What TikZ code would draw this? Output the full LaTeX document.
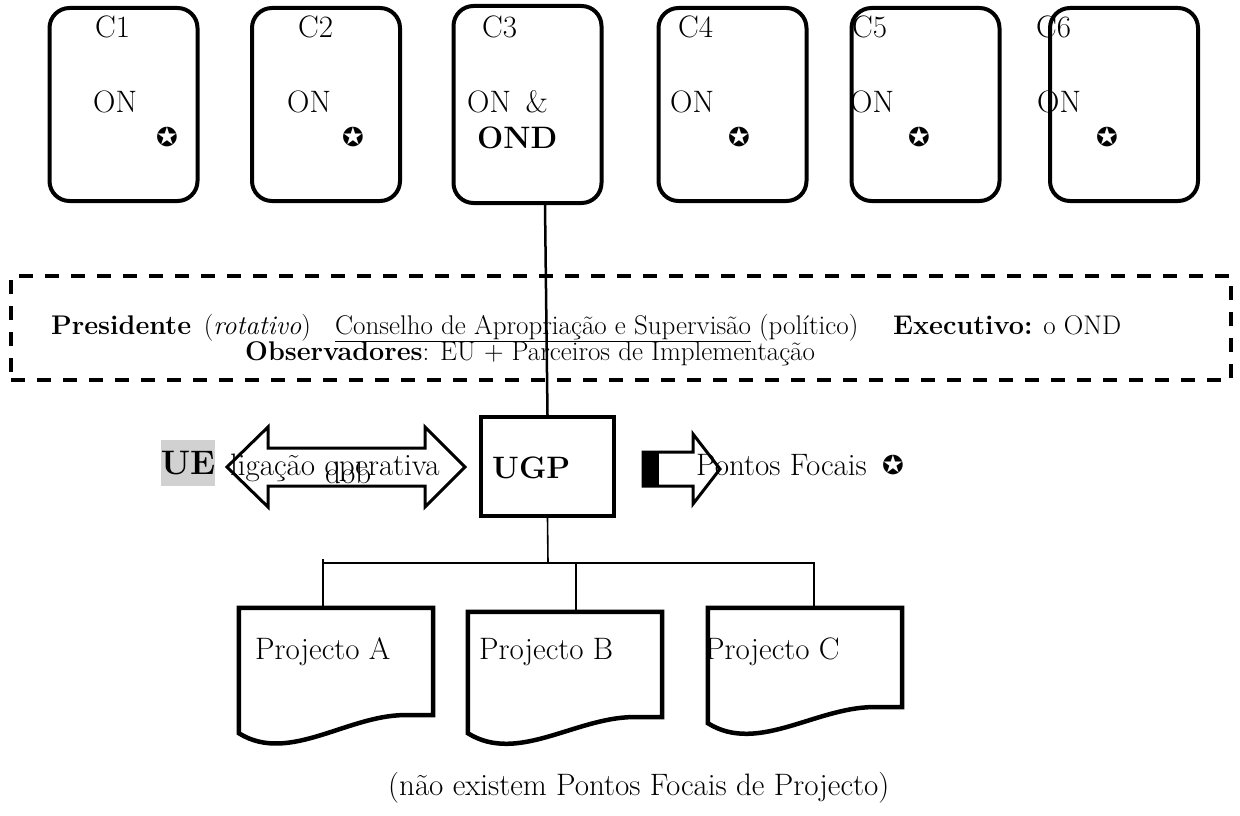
\documentclass[tikz,border=0pt]{standalone}
\usepackage{fontspec}
\newfontfamily\starf{DejaVu Sans}
\usetikzlibrary{calc}
\tikzset{
  cbox/.style={draw, line width=4pt, rounded corners=20pt, minimum width=148pt, minimum height=193pt, inner sep=0pt},
  txt/.style={font=\fontsize{31}{36}\selectfont, inner sep=0pt, anchor=base west},
  btxt/.style={font=\fontsize{31}{36}\selectfont\bfseries, inner sep=0pt, anchor=base west},
  dtxt/.style={font=\fontsize{27}{31}\selectfont, inner sep=0pt, anchor=base west},
  starsym/.style={font=\starf\fontsize{26}{30}\selectfont, inner sep=0pt},
  docnode/.style={draw=none, minimum width=194pt, inner sep=0pt},
  docline/.style={line width=4.5pt, line join=miter},
  conn/.style={line width=2.5pt},
  tree/.style={line width=1.6pt},
  bigarrow/.style={line width=3pt, line join=miter, fill=white},
}
\newcommand\docshape[2]{%
  \draw[docline] (#1.south west) -- (#1.north west) -- (#1.north east) -- ([yshift=#2]#1.south east)
    -- ([xshift=-23pt,yshift=#2]#1.south east)
    .. controls ([xshift=-83pt,yshift=#2+3pt]#1.south east) and ([xshift=51pt,yshift=-32pt]#1.south west) ..
    (#1.south west) -- cycle;}
\begin{document}
\begin{tikzpicture}[x=1pt,y=-1pt]
\useasboundingbox (0,0) rectangle (1240,816);
% top boxes
\node[cbox] (C1) at (123.5,104.5) {};
\node[cbox] (C2) at (326,104.5) {};
\node[cbox, minimum height=197pt] (C3) at (527.5,104.5) {};
\node[cbox] (C4) at (732.5,104.5) {};
\node[cbox] (C5) at (925.5,104.5) {};
\node[cbox] (C6) at (1124,104.5) {};
% labels in boxes
\node[txt] (t1) at (95,38) {C1};
\node[txt] (o1) at (93,112) {ON};
\node[starsym] (s1) at (167,137) {✪};
\node[txt] (t2) at (298,38) {C2};
\node[txt] (o2) at (287,112) {ON};
\node[starsym] (s2) at (353,137) {✪};
\node[txt] (t3) at (482,38) {C3};
\node[txt] (o3) at (467,112) {ON~\,\&};
\node[btxt] (d3) at (477,148) {OND};
\node[txt] (t4) at (678,38) {C4};
\node[txt] (o4) at (670,112) {ON};
\node[starsym] (s4) at (739,137) {✪};
\node[txt] (t5) at (852,38) {C5};
\node[txt] (o5) at (850,112) {ON};
\node[starsym] (s5) at (919,137) {✪};
\node[txt] (t6) at (1036,38) {C6};
\node[txt] (o6) at (1037,112) {ON};
\node[starsym] (s6) at (1107,137) {✪};
% dashed council box
\node[draw, line width=4pt, dash pattern=on 14pt off 12pt, minimum width=1220pt, minimum height=104pt, inner sep=0pt] (CAS) at (621,328) {};
\node[dtxt] (p1) at (51,334) {\textbf{Presidente}\, (\textit{rotativo})};
\node[dtxt] (p2) at (335,334) {\underline{Conselho de Apropriação e Supervisão} (político)};
\node[dtxt] (p3) at (893,334) {\textbf{Executivo:} o OND};
\node[dtxt] (p4) at (245,360) {\textbf{Observadores}: EU + Parceiros de Implementação};
% UGP
\node[draw, line width=4pt, minimum width=133pt, minimum height=99pt, inner sep=0pt] (UGP) at (547.5,466.5) {};
\node[btxt] (ugpt) at (492,478) {UGP};
\draw[conn] ([xshift=17.5pt]C3.south) -- (UGP.north);
% UE and double arrow
\node[fill=black!18, minimum width=52pt, minimum height=46pt, inner sep=0pt, font=\fontsize{34}{40}\selectfont\bfseries] (UE) at (188,463) {UE};
\draw[bigarrow] (227,467) -- (268,427) -- (268,448) -- (425,448) -- (425,427) -- (465,467)
  -- (425,507) -- (425,486) -- (268,486) -- (268,507) -- cycle;
\node[txt] (lig) at (230,475) {ligação operativa};
\node[txt] (dob) at (325,483) {dob};
% Pontos focais arrow
\draw[bigarrow] (643,452) -- (693,452) -- (693,434) -- (720,469) -- (693,504) -- (693,486) -- (643,486) -- cycle;
\fill (643,452) rectangle (659,486);
\node[txt] (pf) at (696,475) {Pontos Focais};
\node[starsym] (spf) at (893,465) {✪};
% projects
\node[docnode, minimum height=125pt] (PA) at (336,670.5) {};
\node[docnode, minimum height=121pt] (PB) at (565,672.5) {};
\node[docnode, minimum height=115pt] (PC) at (805,665.5) {};
\docshape{PA}{18pt}
\docshape{PB}{16pt}
\docshape{PC}{16pt}
\node[txt] (pat) at (255,659) {Projecto A};
\node[txt] (pbt) at (479,659) {Projecto B};
\node[txt] (pct) at (705,659) {Projecto C};
% tree
\coordinate (J) at (548,563);
\draw[tree] (UGP.south) -- (J);
\draw[tree] ([xshift=-13pt]PA.north) |- (J) -| ([xshift=9pt]PC.north);
\draw[tree] ([xshift=-13pt]PA.north) -- ++(0,-49);
\draw[tree] ([xshift=11pt]PB.north) -- ([xshift=11pt]PB.north |- J);
% note
\node[txt] (note) at (388,795) {(não existem Pontos Focais de Projecto)};
\end{tikzpicture}
\end{document}
